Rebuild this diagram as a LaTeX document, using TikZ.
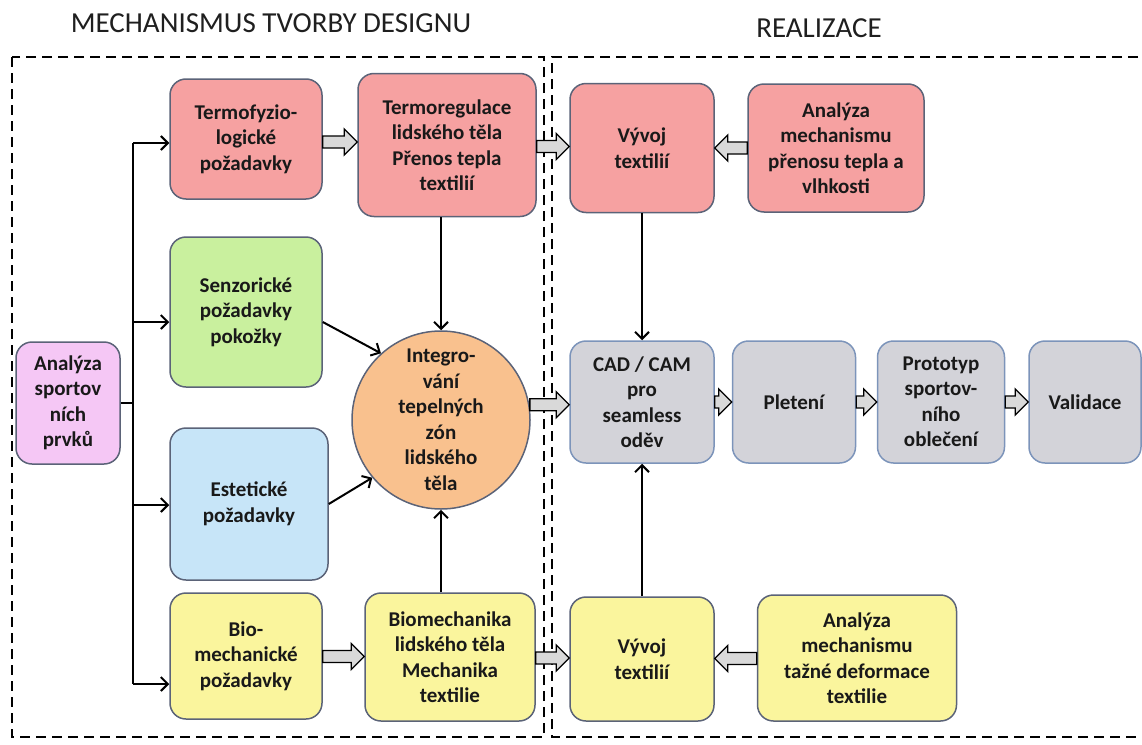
\documentclass[tikz,border=0pt]{standalone}
\usepackage{fontspec}
\setmainfont{Carlito}
\usetikzlibrary{arrows.meta,calc}
\definecolor{cred}{HTML}{F6A1A1}
\definecolor{cgreen}{HTML}{C9F09E}
\definecolor{cblue}{HTML}{C7E5F8}
\definecolor{cpink}{HTML}{F5C7F5}
\definecolor{corange}{HTML}{F9C18E}
\definecolor{cgrey}{HTML}{D3D3D9}
\definecolor{cyellow}{HTML}{FAF59D}
\definecolor{cborder}{HTML}{5B6378}
\definecolor{cgborder}{HTML}{7C94BA}
\definecolor{carrow}{HTML}{D9D9D9}
\tikzset{
  box/.style={draw=cborder, line width=1.5pt, rounded corners=16pt, align=center,
    font=\bfseries\fontsize{21}{25.5}\selectfont, inner sep=2pt, text=black!90},
  thinarr/.style={line width=2pt, -{Straight Barb[length=7pt,width=14pt]}},
  trunkline/.style={line width=2pt},
  hollow/.style={draw=black, line width=1.3pt, fill=carrow, line join=miter},
  frame/.style={line width=2.2pt, dash pattern=on 10pt off 6pt},
  titletext/.style={font=\fontsize{29}{33}\selectfont, text=black!88}
}
\newcommand\barrow[2]{%
  \path[hollow] let \p1=#1, \p2=#2, \p3=($#1!.5!#2$), \n1={sign(\x2-\x1)} in
  ({\x1},{\y3+6pt}) -- ({\x2-13pt*\n1},{\y3+6pt}) -- ({\x2-13pt*\n1},{\y3+13pt})
  -- ({\x2},{\y3}) -- ({\x2-13pt*\n1},{\y3-13pt}) -- ({\x2-13pt*\n1},{\y3-6pt})
  -- ({\x1},{\y3-6pt}) -- cycle;}
\begin{document}
\begin{tikzpicture}[x=1pt,y=-1pt]
\useasboundingbox (0,0) rectangle (1142,744);
% titles
\node[titletext] (t1title) at (271,23) {MECHANISMUS TVORBY DESIGNU};
\node[titletext] (t2title) at (819,28) {REALIZACE};
% frames
\draw[frame] (12,57) rectangle (544,737);
\draw[frame] (1170,57) -- (552,57) -- (552,737) -- (1170,737);
% nodes
\node[box, fill=cred, minimum width=152pt, minimum height=120pt] (tfz) at (246,139) {Termofyzio-\\logické\\požadavky};
\node[box, fill=cred, minimum width=178pt, minimum height=143pt] (tr) at (447,145) {Termoregulace\\lidského těla\\Přenos tepla\\textilií};
\node[box, fill=cred, minimum width=144pt, minimum height=129pt] (vt) at (642,148) {Vývoj\\textilií};
\node[box, fill=cred, minimum width=176pt, minimum height=128pt] (ap) at (836,148) {Analýza\\mechanismu\\přenosu tepla a\\vlhkosti};
\node[box, fill=cgreen, minimum width=152pt, minimum height=150pt] (senz) at (246,312) {Senzorické\\požadavky\\pokožky};
\node[box, fill=cpink, minimum width=104pt, minimum height=122pt] (asp) at (68,403) {Analýza\\sportov\\ních\\prvků};
\node[box, circle, rounded corners=0pt, fill=corange, minimum size=178pt, inner sep=0pt] (circ) at (441,420) {Integro-\\vání\\tepelných\\zón\\lidského\\těla};
\node[box, fill=cgrey, draw=cgborder, minimum width=144pt, minimum height=122pt] (cad) at (642,402) {CAD / CAM\\pro\\seamless\\oděv};
\node[box, fill=cgrey, draw=cgborder, minimum width=123pt, minimum height=122pt] (pl) at (794,402) {Pletení};
\node[box, fill=cgrey, draw=cgborder, minimum width=127pt, minimum height=122pt] (pt) at (941,402) {Prototyp\\sportov-\\ního\\oblečení};
\node[box, fill=cgrey, draw=cgborder, minimum width=112pt, minimum height=122pt] (val) at (1085,402) {Validace};
\node[box, fill=cblue, minimum width=158pt, minimum height=152pt] (est) at (249,504) {Estetické\\požadavky};
\node[box, fill=cyellow, minimum width=152pt, minimum height=126pt] (bio) at (246,656) {Bio-\\mechanické\\požadavky};
\node[box, fill=cyellow, minimum width=170pt, minimum height=128pt] (bm) at (450,657) {Biomechanika\\lidského těla\\Mechanika\\textilie};
\node[box, fill=cyellow, minimum width=144pt, minimum height=124pt] (vb) at (642,659) {Vývoj\\textilií};
\node[box, fill=cyellow, minimum width=199pt, minimum height=126pt] (at) at (857,658) {Analýza\\mechanismu\\tažné deformace\\textilie};
% trunk
\coordinate (k1) at (133,143);
\coordinate (k2) at (133,322);
\coordinate (k3) at (133,505);
\coordinate (k4) at (133,684);
\draw[trunkline] (k1) -- (k4);
\draw[trunkline] (asp.east) -- (asp.east -| k1);
\draw[thinarr] (k1) -- (k1 -| tfz.west);
\draw[thinarr] (k2) -- (k2 -| senz.west);
\draw[thinarr] (k3) -- (k3 -| est.west);
\draw[thinarr] (k4) -- (k4 -| bio.west);
% thin arrows to circle and CAD
\draw[thinarr] (tr.south -| circ.north) -- (circ.north);
\draw[thinarr] (bm.north -| circ.south) -- (circ.south);
\draw[thinarr] ([yshift=-10pt]senz.east) -- (circ.132);
\draw[thinarr] (est.east) -- (circ.220);
\draw[thinarr] (vt.south) -- (cad.north);
\draw[thinarr] (vb.north) -- (cad.south);
% hollow arrows
\barrow{(tfz.east)}{(tr.west)}
\barrow{(tr.east)}{(vt.west)}
\barrow{(ap.west)}{(vt.east)}
\barrow{(circ.8)}{(cad.west)}
\barrow{(cad.east)}{(pl.west)}
\barrow{(pl.east)}{(pt.west)}
\barrow{(pt.east)}{(val.west)}
\barrow{(bio.east)}{(bm.west)}
\barrow{(bm.east)}{(vb.west)}
\barrow{(at.west)}{(vb.east)}
\end{tikzpicture}
\end{document}
